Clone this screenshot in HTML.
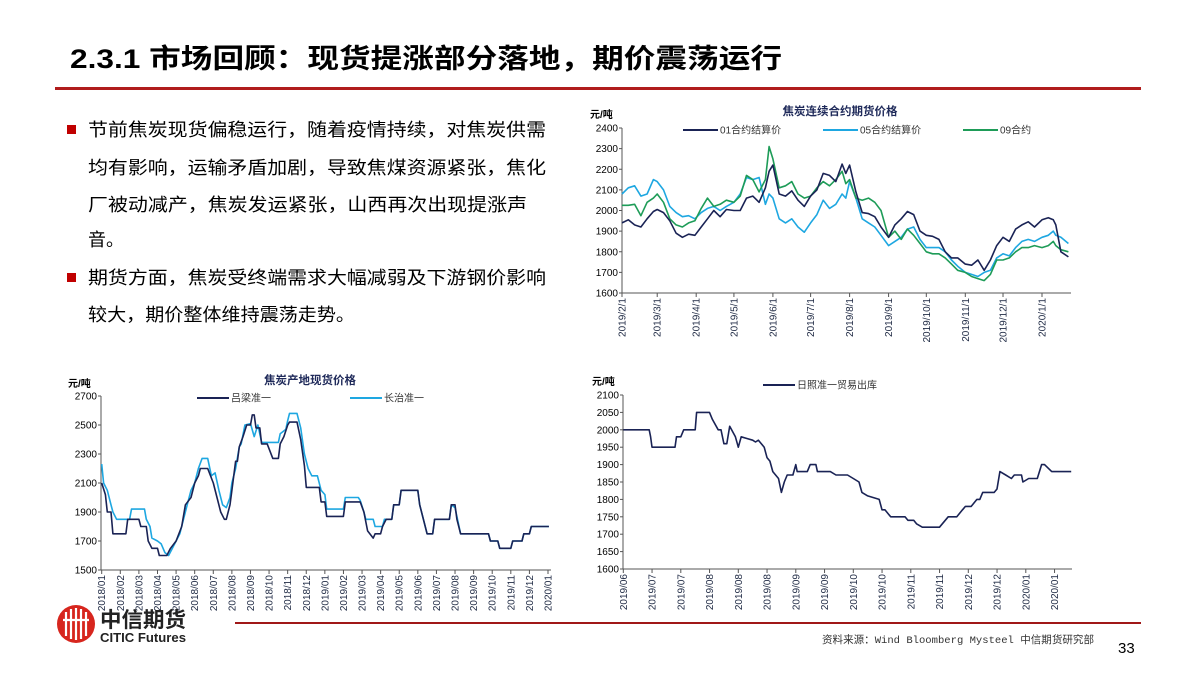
<!DOCTYPE html>
<html><head><meta charset="utf-8"><style>
html,body{margin:0;padding:0;background:#fff;}
svg{display:block;font-family:"Liberation Sans","Noto Sans CJK SC",sans-serif;}
</style></head><body>
<svg id="page" width="1200" height="675" viewBox="0 0 1200 675" xmlns="http://www.w3.org/2000/svg">
<text x="70" y="68" font-size="27" font-weight="bold" fill="#000" textLength="712" lengthAdjust="spacingAndGlyphs">2.3.1 市场回顾：现货提涨部分落地，期价震荡运行</text>
<rect x="55" y="87" width="1086" height="3" fill="#b01c1c"/>
<g font-size="18" fill="#000">
<rect x="67" y="125" width="9" height="9" fill="#c00000"/>
<text x="88" y="136" textLength="458" lengthAdjust="spacingAndGlyphs">节前焦炭现货偏稳运行，随着疫情持续，对焦炭供需</text>
<text x="88" y="174" textLength="458" lengthAdjust="spacingAndGlyphs">均有影响，运输矛盾加剧，导致焦煤资源紧张，焦化</text>
<text x="88" y="211" textLength="439" lengthAdjust="spacingAndGlyphs">厂被动减产，焦炭发运紧张，山西再次出现提涨声</text>
<text x="88" y="246">音。</text>
<rect x="67" y="273" width="9" height="9" fill="#c00000"/>
<text x="88" y="284" textLength="458" lengthAdjust="spacingAndGlyphs">期货方面，焦炭受终端需求大幅减弱及下游钢价影响</text>
<text x="88" y="321" textLength="267" lengthAdjust="spacingAndGlyphs">较大，期价整体维持震荡走势。</text>
</g>
<g id="c1"></g>
<g id="c2"></g>
<g id="c3"></g>
<g>
<rect x="235" y="622" width="906" height="2" fill="#a01818"/>
<circle cx="76" cy="624" r="19" fill="#d7261e"/>
<g stroke="#fff" stroke-width="2.2" fill="none">
<path d="M66 612 V636 M71 609 V639 M76 608 V640 M81 609 V639 M86 612 V636"/>
<path d="M63 620 H89"/>
</g>
<text x="100" y="627" font-size="21" font-weight="bold" fill="#222" textLength="86" lengthAdjust="spacingAndGlyphs">中信期货</text>
<text x="100" y="642" font-size="13" font-weight="bold" fill="#222" textLength="86" lengthAdjust="spacingAndGlyphs">CITIC Futures</text>
<text x="822" y="643" font-size="10.5" fill="#333" font-family="Liberation Mono, Noto Sans CJK SC, monospace" textLength="272" lengthAdjust="spacingAndGlyphs">资料来源：Wind Bloomberg Mysteel 中信期货研究部</text>
<text x="1118" y="653" font-size="15" fill="#000">33</text>
</g>
</svg>
<script>
// ===== Chart 1 data: 焦炭连续合约期货价格 (day offsets from 2019/2/1) =====
const c1Days = [0,5,10,15,20,25,28,33,38,43,48,53,58,63,68,73,78,83,89,94,99,104,109,114,117,120,125,130,135,140,145,150,155,160,165,170,175,178,181,186,191,196,201,206,212,217,222,227,232,237,242,247,252,257,262,267,273,278,283,288,293,298,303,308,313,318,323,328,334,339,343,345,349,355];
const c1S01 = [1940,1955,1930,1920,1960,1995,2005,1990,1950,1890,1870,1885,1880,1920,1960,2000,1970,2005,2000,2000,2060,2070,2040,2110,2190,2220,2080,2070,2095,2050,2020,2070,2100,2180,2170,2140,2225,2180,2220,2090,1990,1985,1970,1920,1870,1930,1960,1995,1980,1900,1880,1875,1860,1800,1770,1770,1740,1735,1760,1710,1760,1830,1870,1850,1910,1930,1945,1920,1955,1965,1955,1930,1800,1775];
const c1S05 = [2080,2110,2120,2070,2080,2150,2140,2100,2020,1990,1970,1975,1960,1990,2010,2020,2000,2020,2040,2080,2160,2150,2160,2030,2080,2060,1960,1940,1960,1920,1895,1940,1980,2050,2010,2030,2080,2060,2140,2060,1960,1940,1920,1880,1830,1850,1870,1910,1920,1860,1820,1820,1820,1800,1760,1730,1700,1690,1680,1700,1710,1770,1790,1780,1820,1850,1860,1850,1870,1880,1900,1880,1870,1840];
const c1S09 = [2025,2025,2030,1975,2040,2060,2080,2040,1960,1930,1920,1940,1950,2010,2060,2020,2030,2050,2040,2070,2170,2150,2090,2150,2310,2250,2110,2120,2140,2080,2060,2070,2110,2140,2120,2150,2190,2130,2150,2060,2050,2060,2040,2000,1870,1900,1860,1910,1880,1840,1800,1790,1790,1770,1740,1710,1700,1680,1670,1660,1690,1760,1760,1770,1800,1820,1820,1830,1820,1830,1850,1830,1810,1800];
const c1Ticks = [1600,1700,1800,1900,2000,2100,2200,2300,2400];
const c1LabelDays = [0,28,59,89,120,150,181,212,242,273,303,334];
const c1Labels = ['2019/2/1','2019/3/1','2019/4/1','2019/5/1','2019/6/1','2019/7/1','2019/8/1','2019/9/1','2019/10/1','2019/11/1','2019/12/1','2020/1/1'];

// ===== Chart 2 data: 焦炭产地现货价格 (months from 2018/01) =====
const c2TimesLL = [0,0.2,0.3,0.5,0.6,1.3,1.4,2.0,2.1,2.4,2.5,2.7,3.0,3.1,3.5,3.7,4.0,4.3,4.5,4.8,5.0,5.2,5.3,5.7,6.0,6.2,6.4,6.6,6.7,6.9,7.0,7.2,7.3,7.4,7.6,7.8,8.0,8.1,8.2,8.3,8.5,8.6,8.9,9.2,9.5,9.6,9.8,10.0,10.1,10.5,10.7,10.9,11.0,11.7,11.8,12.0,12.1,13.0,13.1,13.9,14.1,14.3,14.6,14.7,15.0,15.1,15.3,15.6,15.7,16.0,16.1,17.0,17.1,17.3,17.5,17.8,17.9,18.7,18.8,19.0,19.1,19.3,20.8,20.9,21.3,21.4,22.0,22.1,22.6,22.7,23.0,23.1,24.05];
const c2Lvliang = [2100,2020,1900,1900,1750,1750,1850,1850,1800,1800,1700,1650,1650,1600,1600,1650,1700,1800,1950,2000,2100,2150,2200,2200,2100,2000,1900,1850,1850,1950,2050,2250,2250,2350,2420,2500,2500,2570,2570,2480,2480,2370,2370,2270,2270,2370,2420,2500,2520,2520,2400,2220,2070,2070,1970,1970,1870,1870,1970,1970,1900,1770,1720,1750,1750,1800,1850,1850,1950,1950,2050,2050,1950,1850,1750,1750,1850,1850,1950,1950,1850,1750,1750,1700,1700,1650,1650,1700,1700,1750,1750,1800,1800];
const c2TimesCZ = [0,0.1,0.3,0.5,0.6,0.8,1.5,1.6,2.3,2.4,2.6,2.7,3.0,3.2,3.4,3.6,3.8,4.0,4.2,4.4,4.6,4.8,5.0,5.2,5.4,5.7,5.9,6.1,6.3,6.5,6.7,6.9,7.0,7.2,7.4,7.5,7.7,8.0,8.2,8.4,8.6,9.2,9.5,9.6,9.9,10.0,10.1,10.5,10.7,10.9,11.1,11.3,11.6,11.8,12.0,12.1,13.0,13.1,13.8,13.9,14.1,14.2,14.6,14.7,15.1,15.2,15.6,15.7,16.0,16.1,17.0,17.1,17.3,17.5,17.8,17.9,18.7,18.8,19.0,19.1,19.3,20.8,20.9,21.3,21.4,22.0,22.1,22.6,22.7,23.0,23.1,24.05];
const c2Changzhi = [2230,2100,2050,1950,1900,1850,1850,1920,1920,1850,1800,1720,1700,1680,1620,1600,1650,1700,1750,1850,1950,2050,2100,2200,2270,2270,2150,2170,2050,1950,1930,2000,2100,2200,2350,2370,2500,2510,2420,2500,2380,2380,2380,2440,2470,2530,2580,2580,2480,2300,2200,2150,2150,2050,2020,1920,1920,2000,2000,1980,1900,1850,1850,1800,1800,1850,1850,1950,1950,2050,2050,1950,1850,1750,1750,1850,1850,1950,1930,1870,1750,1750,1700,1700,1650,1650,1700,1700,1750,1750,1800,1800];
const c2Ticks = [1500,1700,1900,2100,2300,2500,2700];
const c2Labels = ['2018/01','2018/02','2018/03','2018/04','2018/05','2018/06','2018/07','2018/08','2018/09','2018/10','2018/11','2018/12','2019/01','2019/02','2019/03','2019/04','2019/05','2019/06','2019/07','2019/08','2019/09','2019/10','2019/11','2019/12','2020/01'];

// ===== Chart 3 data: 日照准一贸易出库 (category index units) =====
const c3Times = [0,0.9,0.95,1.0,1.8,1.85,2.0,2.1,2.5,2.55,3.0,3.1,3.3,3.4,3.5,3.6,3.7,3.9,4.0,4.1,4.3,4.5,4.6,4.7,4.9,5.0,5.1,5.2,5.4,5.5,5.6,5.7,5.9,6.0,6.05,6.4,6.5,6.7,6.75,7.2,7.4,7.8,8.0,8.2,8.3,8.5,8.9,9.0,9.1,9.3,9.8,9.9,10.1,10.2,10.4,10.9,11.0,11.3,11.6,11.8,11.9,12.1,12.3,12.4,12.5,12.9,13.0,13.1,13.3,13.5,13.6,13.85,13.9,14.1,14.4,14.55,14.65,14.9,15.58];
const c3Rizhao = [2000,2000,1980,1950,1950,1980,1980,2000,2000,2050,2050,2030,2000,2000,1960,1960,2010,1980,1950,1980,1975,1970,1965,1970,1950,1920,1910,1880,1860,1820,1850,1870,1870,1900,1880,1880,1900,1900,1880,1880,1870,1870,1860,1850,1820,1810,1800,1770,1770,1750,1750,1740,1740,1730,1720,1720,1720,1750,1750,1770,1780,1780,1800,1800,1820,1820,1830,1880,1870,1860,1870,1870,1850,1860,1860,1900,1900,1880,1880];
const c3Ticks = [1600,1650,1700,1750,1800,1850,1900,1950,2000,2050,2100];
const c3Labels = ['2019/06','2019/07','2019/07','2019/08','2019/08','2019/08','2019/09','2019/09','2019/10','2019/10','2019/11','2019/11','2019/12','2019/12','2020/01','2020/01'];

const NS = 'http://www.w3.org/2000/svg';
function mk(parent, tag, attrs, txt) {
  const e = document.createElementNS(NS, tag);
  for (const k in attrs) e.setAttribute(k, attrs[k]);
  if (txt !== undefined) e.textContent = txt;
  parent.appendChild(e);
  return e;
}
function linearScale(d0, d1, r0, r1) { return v => r0 + (v - d0) / (d1 - d0) * (r1 - r0); }

function drawAxes(g, x0, x1, yTop, yBot, ticks, yScale, labelPos, labels, xScale) {
  const ax = mk(g, 'path', {d: `M${x0} ${yTop} V${yBot} H${x1}`, stroke: '#555', 'stroke-width': 1, fill: 'none'});
  
  
  ticks.forEach(t => {
    const y = yScale(t);
    const tl = mk(g, 'text', {x: x0 - 4, y: y + 3.5, 'font-size': 10, 'text-anchor': 'end', fill: '#000'}, String(t));
    
    
    mk(g, 'line', {x1: x0 - 3, x2: x0, y1: y, y2: y, stroke: '#555'});
  });
  labels.forEach((lab, i) => {
    const x = xScale(labelPos[i]);
    mk(g, 'line', {x1: x, x2: x, y1: yBot, y2: yBot + 4, stroke: '#555'});
    const tl = mk(g, 'text', {x: 0, y: 0, 'font-size': 10, 'text-anchor': 'end', fill: '#1f2a44', transform: `translate(${x + 3.5},${yBot + 5}) rotate(-90)`}, lab);
    
    
  });
}
function drawLine(g, xs, ys, xScale, yScale, color, name, w) {
  let d = '';
  xs.forEach((t, i) => { d += (i ? 'L' : 'M') + xScale(t).toFixed(1) + ' ' + yScale(ys[i]).toFixed(1); });
  const p = mk(g, 'path', {d, stroke: color, 'stroke-width': w || 1.6, fill: 'none', 'stroke-linejoin': 'round'});
  
  
}
function legend(g, x, y, color, label, name, len) {
  mk(g, 'line', {x1: x, x2: x + len, y1: y, y2: y, stroke: color, 'stroke-width': 2});
  const t = mk(g, 'text', {x: x + len + 2, y: y + 3.5, 'font-size': 10, fill: '#333'}, label);
  
  
}
function title(g, x, y, txt, unitX, unitY) {
  const t = mk(g, 'text', {x, y, 'font-size': 11.5, 'font-weight': 'bold', 'text-anchor': 'middle', fill: '#1f2a5a'}, txt);
  
  
  const u = mk(g, 'text', {x: unitX, y: unitY, 'font-size': 10, 'font-weight': 'bold', fill: '#000'}, '元/吨');
  
  
}

// Chart 1
(function () {
  const g = document.getElementById('c1');
  const xs = linearScale(0, 334, 622, 1042);
  const ys = linearScale(1600, 2400, 293, 128);
  title(g, 840, 115, '焦炭连续合约期货价格', 590, 118);
  drawAxes(g, 622, 1071, 128, 293, c1Ticks, ys, c1LabelDays, c1Labels, xs);
  drawLine(g, c1Days, c1S05, xs, ys, '#1ea7e1', 'series-05-contract');
  drawLine(g, c1Days, c1S09, xs, ys, '#1e9c58', 'series-09-contract');
  drawLine(g, c1Days, c1S01, xs, ys, '#1a2355', 'series-01-contract');
  legend(g, 683, 130, '#1a2355', '01合约结算价', 'legend-01', 35);
  legend(g, 823, 130, '#1ea7e1', '05合约结算价', 'legend-05', 35);
  legend(g, 963, 130, '#1e9c58', '09合约', 'legend-09', 35);
})();

// Chart 2
(function () {
  const g = document.getElementById('c2');
  const xs = linearScale(0, 24, 101.7, 548);
  const ys = linearScale(1500, 2700, 570, 396);
  title(g, 310, 384, '焦炭产地现货价格', 68, 387);
  const pos = c2Labels.map((_, i) => i);
  drawAxes(g, 101, 551, 396, 570, c2Ticks, ys, pos, c2Labels, xs);
  drawLine(g, c2TimesCZ, c2Changzhi, xs, ys, '#1ea7e1', 'series-changzhi');
  drawLine(g, c2TimesLL, c2Lvliang, xs, ys, '#1a2355', 'series-lvliang');
  legend(g, 197, 398, '#1a2355', '吕梁准一', 'legend-lvliang', 32);
  legend(g, 350, 398, '#1ea7e1', '长治准一', 'legend-changzhi', 32);
})();

// Chart 3
(function () {
  const g = document.getElementById('c3');
  const xs = linearScale(0, 1, 623.3, 652.05);
  const ys = linearScale(1600, 2100, 569, 395);
  title(g, 0, 0, '', 592, 385);
  const pos = c3Labels.map((_, i) => i);
  drawAxes(g, 623, 1072, 395, 569, c3Ticks, ys, pos, c3Labels, xs);
  drawLine(g, c3Times, c3Rizhao, xs, ys, '#1a2355', 'series-rizhao');
  legend(g, 763, 385, '#1a2355', '日照准一贸易出库', 'legend-rizhao', 32);
})();
</script>
</body></html>
